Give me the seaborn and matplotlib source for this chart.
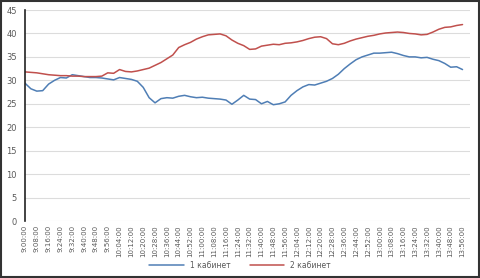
import numpy as np
import pandas as pd
import matplotlib
matplotlib.use("Agg")
import matplotlib.pyplot as plt
from matplotlib.patches import Rectangle
import seaborn as sns

# Readings every 4 minutes starting at 9:00
minutes = np.arange(0, 300, 4)
cab1 = [29.4, 28.2, 27.7, 27.8, 29.2, 30.0, 30.6, 30.5, 31.2, 31.0,
        30.8, 30.6, 30.6, 30.5, 30.3, 30.1, 30.6, 30.4, 30.2, 29.8,
        28.5, 26.3, 25.2, 26.1, 26.3, 26.2, 26.6, 26.8, 26.5, 26.3,
        26.4, 26.2, 26.1, 26.0, 25.8, 24.9, 25.8, 26.8, 26.0, 25.9,
        25.0, 25.5, 24.8, 25.0, 25.4, 26.8, 27.8, 28.6, 29.1, 29.0,
        29.4, 29.8, 30.4, 31.3, 32.5, 33.5, 34.4, 35.0, 35.4, 35.8,
        35.8, 35.9, 36.0, 35.7, 35.3, 35.0, 35.0, 34.8, 34.9, 34.5,
        34.2, 33.6, 32.8, 32.9, 32.3]
cab2 = [31.8, 31.7, 31.6, 31.4, 31.2, 31.1, 31.0, 31.0, 30.9, 30.9,
        30.8, 30.8, 30.8, 30.9, 31.6, 31.5, 32.3, 31.9, 31.8, 32.0,
        32.3, 32.6, 33.2, 33.8, 34.6, 35.4, 37.0, 37.6, 38.1, 38.8,
        39.3, 39.7, 39.8, 39.9, 39.5, 38.6, 37.9, 37.4, 36.6, 36.7,
        37.3, 37.5, 37.7, 37.6, 37.9, 38.0, 38.2, 38.5, 38.9, 39.2,
        39.3, 38.9, 37.8, 37.6, 37.9, 38.4, 38.8, 39.1, 39.4, 39.6,
        39.9, 40.1, 40.2, 40.3, 40.2, 40.0, 39.9, 39.7, 39.8, 40.3,
        40.9, 41.3, 41.4, 41.7, 41.9]
series_names = ["1 кабинет", "2 кабинет"]
tick_minutes = np.arange(0, 300, 8)
tick_labels = ["9:00:00", "9:08:00", "9:16:00", "9:24:00", "9:32:00", "9:40:00",
               "9:48:00", "9:56:00", "10:04:00", "10:12:00", "10:20:00", "10:28:00",
               "10:36:00", "10:44:00", "10:52:00", "11:00:00", "11:08:00", "11:16:00",
               "11:24:00", "11:32:00", "11:40:00", "11:48:00", "11:56:00", "12:04:00",
               "12:12:00", "12:20:00", "12:28:00", "12:36:00", "12:44:00", "12:52:00",
               "13:00:00", "13:08:00", "13:16:00", "13:24:00", "13:32:00", "13:40:00",
               "13:48:00", "13:56:00"]

df = pd.DataFrame({
    "minute": np.concatenate([minutes, minutes]),
    "temp": cab1 + cab2,
    "room": [series_names[0]] * len(cab1) + [series_names[1]] * len(cab2),
})

sns.set_style("white")
plt.rcParams["font.family"] = ["DejaVu Sans"]

fig = plt.figure(figsize=(4.8, 2.78), dpi=100)
ax = fig.add_axes([0.052, 0.205, 0.927, 0.759])
sns.lineplot(data=df, x="minute", y="temp", hue="room",
             palette=["#4f7eb5", "#c0504d"], linewidth=1.1, ax=ax, legend=False)

ax.set_xlim(0, 301)
ax.set_ylim(0, 45)
ax.set_yticks(range(0, 46, 5))
ax.set_xticks(tick_minutes)
ax.set_xticklabels(tick_labels, rotation=90, fontsize=5, color="#595959")
ax.tick_params(axis="y", labelsize=6, colors="#595959", length=0, pad=6)
ax.tick_params(axis="x", length=0, pad=3)
ax.yaxis.grid(True, color="#dcdcdc", linewidth=0.8)
ax.set_axisbelow(True)
ax.set_xlabel("")
ax.set_ylabel("")
for s in ["top", "right", "bottom"]:
    ax.spines[s].set_visible(False)
ax.spines["left"].set_color("#222222")
ax.spines["left"].set_linewidth(1.2)

handles = [plt.Line2D([], [], color="#4f7eb5", lw=1.1),
           plt.Line2D([], [], color="#c0504d", lw=1.1)]
fig.legend(handles, series_names, loc="center", bbox_to_anchor=(0.5, 0.045),
           ncol=2, frameon=False, fontsize=5.5, handlelength=4.5,
           columnspacing=2.5, labelcolor="#595959")

fig.patches.append(Rectangle((0.002, 0.004), 0.996, 0.993, transform=fig.transFigure,
                             fill=False, edgecolor="#333333", linewidth=1.5))

fig.savefig("out.png", dpi=100)
